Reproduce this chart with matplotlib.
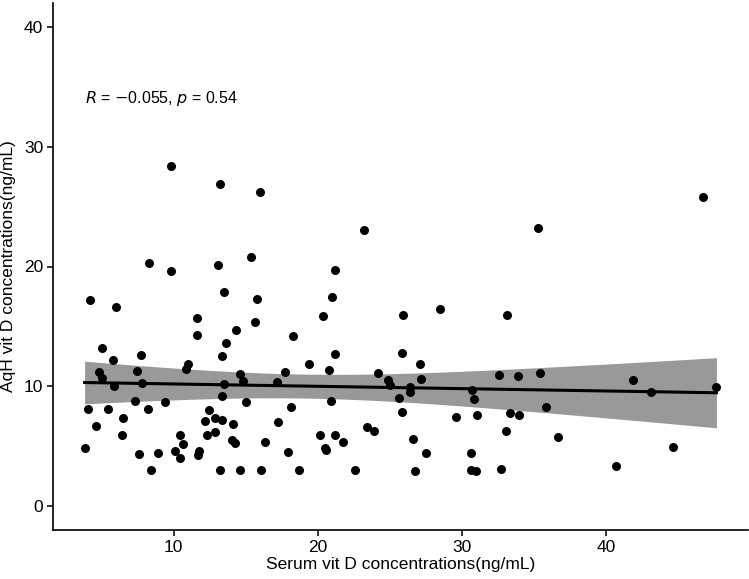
import matplotlib
matplotlib.use("Agg")
import matplotlib.pyplot as plt
import numpy as np

plt.rcParams['font.family'] = ['Liberation Sans', 'DejaVu Sans']

# data (serum vs aqueous humor vit D)
serum = [4.21, 5.97, 8.26, 9.82, 13.04, 13.48, 11.58, 11.58, 5.0, 5.79,
         7.73, 13.64, 13.34, 4.84, 5.0, 7.48, 11.02, 10.88, 5.83, 7.8,
         13.48, 13.34, 4.05, 5.42, 7.29, 9.38, 8.24, 6.48, 4.6, 6.41,
         3.82, 7.57, 8.89, 8.43, 12.46, 12.18, 12.88, 13.38, 12.34, 12.88,
         10.44, 10.65, 10.12, 10.42, 11.76, 11.69, 13.18, 14.58, 14.82, 14.98,
         17.16, 17.71, 18.11, 17.2, 14.08, 14.03, 14.22, 16.32, 17.9, 14.61,
         16.05, 18.69, 22.58, 20.87, 20.75, 20.17, 21.19, 21.72, 20.52, 20.59,
         23.37, 23.88, 24.18, 23.2, 15.33, 15.75, 21.17, 20.94, 20.38, 15.63,
         14.34, 18.3, 21.17, 19.41, 9.84, 13.18, 15.96, 35.25, 25.89, 28.48,
         33.1, 25.8, 27.1, 27.17, 24.83, 25.01, 26.4, 32.56, 33.88, 35.4,
         26.4, 25.59, 25.8, 30.69, 30.81, 35.81, 29.6, 31.01, 33.31, 33.93,
         26.59, 33.0, 36.64, 27.51, 30.62, 26.73, 30.62, 30.95, 32.68, 46.72,
         41.85, 43.1, 47.62, 40.63, 44.63]
aqh = [17.2, 16.6, 20.3, 19.6, 20.1, 17.9, 15.7, 14.3, 13.2, 12.2,
       12.6, 13.6, 12.5, 11.2, 10.65, 11.26, 11.9, 11.46, 10.0, 10.3,
       10.2, 9.17, 8.14, 8.14, 8.73, 8.67, 8.09, 7.39, 6.69, 5.91,
       4.85, 4.32, 4.41, 2.98, 7.98, 7.14, 7.39, 7.17, 5.97, 6.16,
       5.91, 5.18, 4.57, 4.05, 4.57, 4.24, 2.98, 10.99, 10.43, 8.7,
       10.37, 11.2, 8.25, 7.02, 6.86, 5.49, 5.27, 5.35, 4.55, 2.98,
       3.01, 2.98, 2.98, 8.81, 11.35, 5.97, 5.97, 5.35, 4.88, 4.71,
       6.61, 6.25, 11.07, 23.05, 20.8, 17.26, 19.73, 17.45, 15.86, 15.39,
       14.66, 14.16, 12.68, 11.87, 28.4, 26.9, 26.2, 23.25, 15.97, 16.45,
       15.97, 12.77, 11.88, 10.62, 10.5, 10.09, 9.95, 10.95, 10.82, 11.07,
       9.5, 9.06, 7.86, 9.67, 8.9, 8.25, 7.44, 7.56, 7.75, 7.64,
       5.63, 6.25, 5.74, 4.43, 4.43, 2.96, 3.0, 2.96, 3.13, 25.79,
       10.51, 9.56, 9.95, 3.32, 4.93]

x_ticks = [10, 20, 30, 40]
y_ticks = [0, 10, 20, 30, 40]
cor_label = r"$R$ = $-$0.055, $p$ = 0.54"

x = np.array(serum)
y = np.array(aqh)
n = len(x)

# linear fit + 95% CI like geom_smooth(method="lm")
b, a = np.polyfit(x, y, 1)
xs = np.linspace(x.min(), x.max(), 100)
ys = a + b * xs
resid = y - (a + b * x)
s = np.sqrt(np.sum(resid ** 2) / (n - 2))
sxx = np.sum((x - x.mean()) ** 2)
se = s * np.sqrt(1 / n + (xs - x.mean()) ** 2 / sxx)
t = 1.979
lo = ys - t * se
hi = ys + t * se

fig = plt.figure(figsize=(7.49, 5.79), dpi=100)
ax = fig.add_axes([53 / 749, 49 / 579, 695 / 749, 527 / 579])

ax.fill_between(xs, lo, hi, color='#999999', lw=0, zorder=1)
ax.plot(xs, ys, color='black', lw=2.2, zorder=2)
ax.scatter(x, y, s=42, color='black', lw=0, zorder=3)

ax.text(x.min(), 34, cor_label, fontsize=11.5, va='center', ha='left')

xr = x.max() - x.min()
ax.set_xlim(x.min() - 0.05 * xr, x.max() + 0.05 * xr)
ax.set_ylim(-2, 42)
ax.set_xticks(x_ticks)
ax.set_yticks(y_ticks)

for side in ['top', 'right']:
    ax.spines[side].set_visible(False)
for side in ['left', 'bottom']:
    ax.spines[side].set_linewidth(1.2)
ax.tick_params(length=4, width=1.1, labelsize=12.5, colors='black', pad=3)

ax.set_xlabel("Serum vit D concentrations(ng/mL)", fontsize=12.5, labelpad=2)
ax.set_ylabel("AqH vit D concentrations(ng/mL)", fontsize=12.5, labelpad=6)

fig.savefig("out.png", dpi=100)
plt.close()
